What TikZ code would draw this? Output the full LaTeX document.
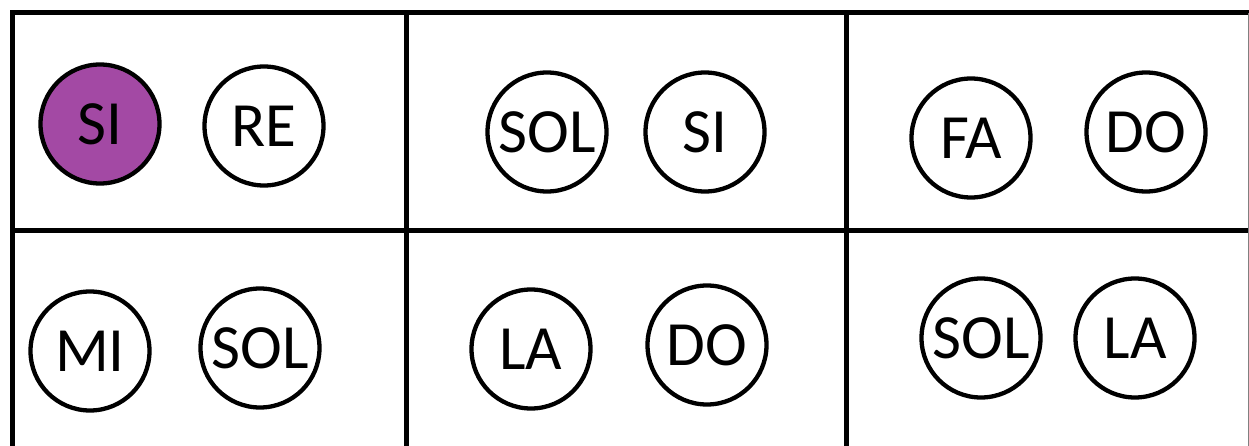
\documentclass[tikz,border=0pt]{standalone}
\usepackage{fontspec}
\setmainfont{Carlito}
\definecolor{notepurple}{HTML}{A349A4}
\tikzset{
  note/.style={circle, draw=black, line width=4.3pt, fill=white, inner sep=0pt,
    minimum size=119pt, font=\fontsize{63}{63}\selectfont},
  grid/.style={line width=5pt, draw=black},
}
\begin{document}
\begin{tikzpicture}[x=1pt,y=-1pt]
\useasboundingbox (0,0) rectangle (1249,446);
% grid
\coordinate (tl) at (12,13);
\coordinate (bl) at (12,450);
\coordinate (tr) at (1252,13);
\coordinate (v1t) at (406,13);
\coordinate (v1b) at (406,450);
\coordinate (v2t) at (846,13);
\coordinate (v2b) at (846,450);
\coordinate (hl) at (12,231);
\coordinate (hr) at (1252,231);
\coordinate (rt) at (1248.5,13);
\coordinate (rb) at (1248.5,450);
\draw[grid] (bl) -- (tl) -- (tr);
\draw[grid] (v1t) -- (v1b);
\draw[grid] (v2t) -- (v2b);
\draw[grid] (hl) -- (hr);
\draw[line width=1pt, draw=gray] (rt) -- (rb);
% top row
\node[note, fill=notepurple] (si1) at (100,124) {SI};
\node[note] (re1) at (264,126) {RE};
\node[note] (sol1) at (547,132) {SOL};
\node[note] (si2) at (705,132) {SI};
\node[note] (fa1) at (971,138) {FA};
\node[note] (do1) at (1146,132) {DO};
% bottom row
\node[note] (mi2) at (90,351) {MI};
\node[note] (sol2) at (260,348) {SOL};
\node[note] (la2) at (531,349) {LA};
\node[note] (do2) at (707,345) {DO};
\node[note] (sol3) at (981,338) {SOL};
\node[note] (la3) at (1135,338) {LA};
\end{tikzpicture}
\end{document}
